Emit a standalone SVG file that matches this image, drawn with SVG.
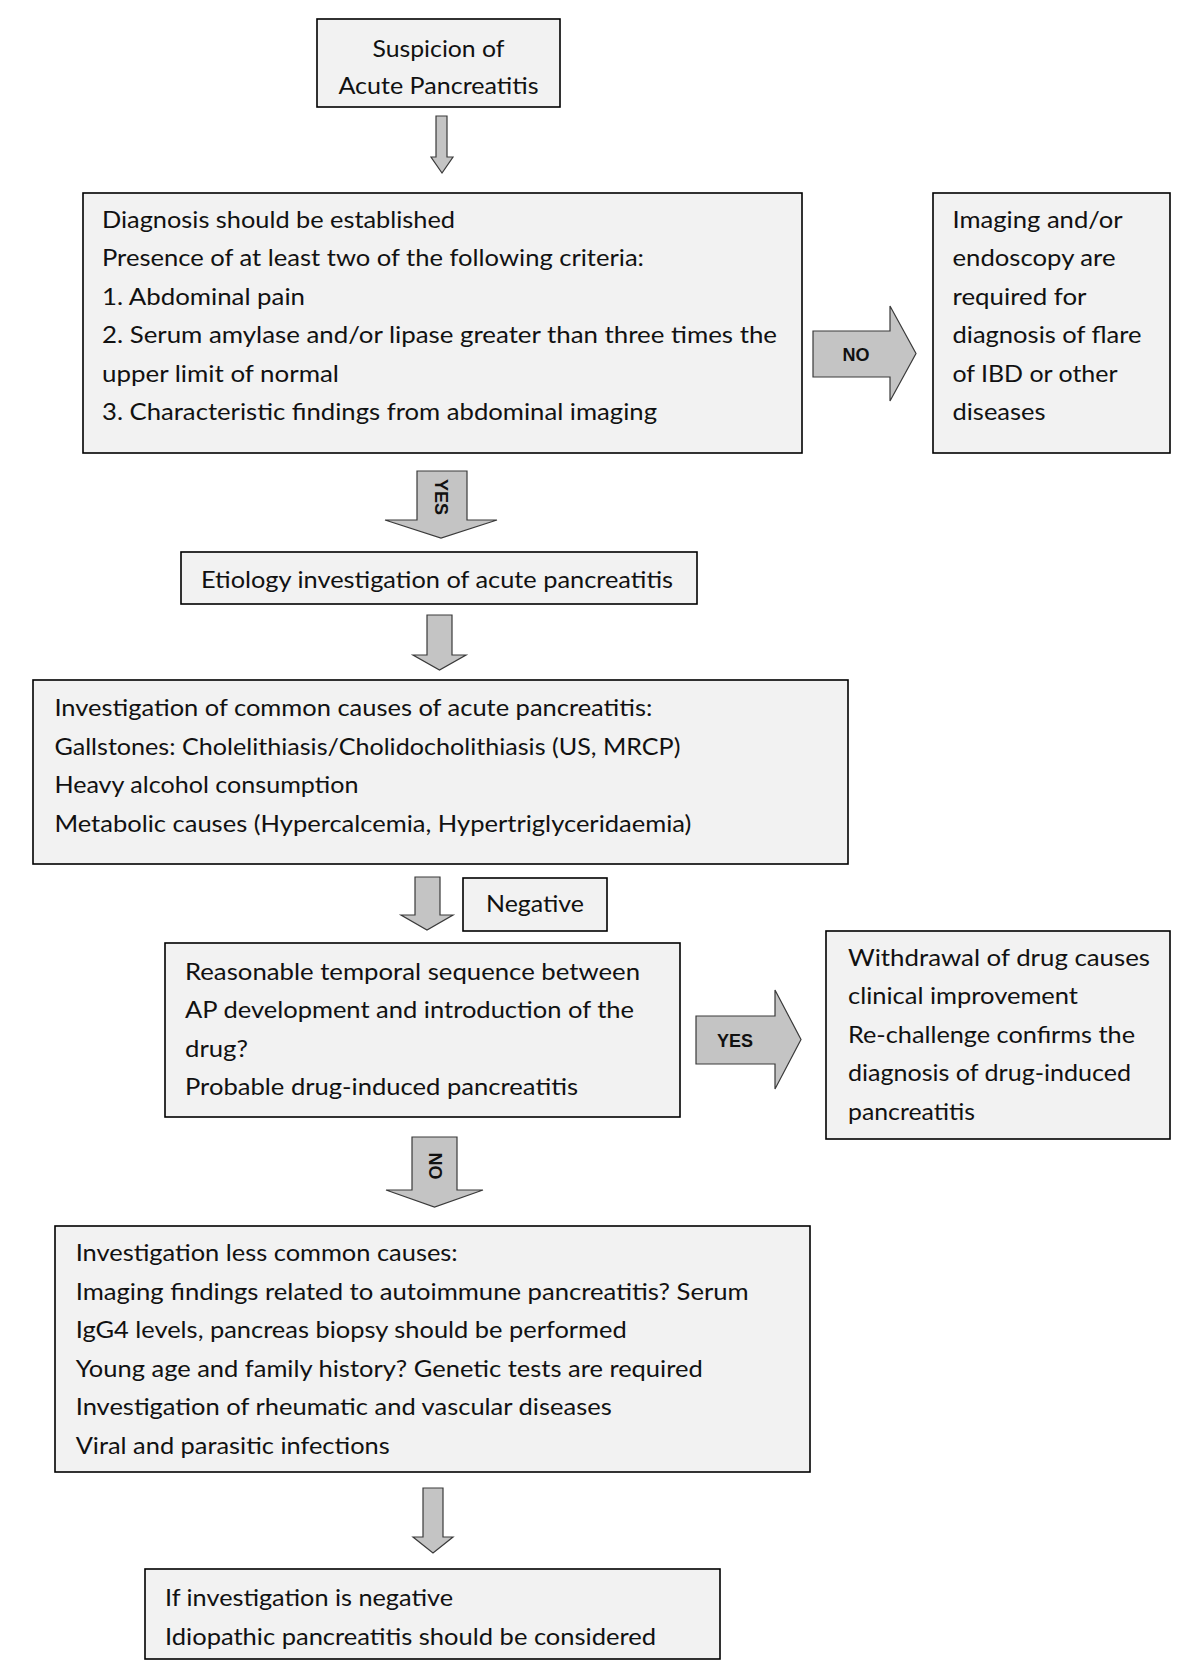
<svg xmlns="http://www.w3.org/2000/svg" width="1181" height="1672" viewBox="0 0 1181 1672">
<style>
.box{fill:#f2f2f2;stroke:#000;stroke-width:1.6}
.t{font-family:Lato,"Open Sans","Liberation Sans",sans-serif;font-size:23px;fill:#111}
.arr{fill:#c4c4c4;stroke:#3a3a3a;stroke-width:1.2;stroke-linejoin:miter}
.lbl{font-family:"Liberation Sans",Arial,sans-serif;font-weight:bold;font-size:18px;fill:#111}
</style>
<rect width="1181" height="1672" fill="#fff"/>
<g id="connectors">
<polygon class="arr" points="436,116 447,116 447,157 453,157 442,173 431,157 436,157"/>
<polygon class="arr" points="417,471 467,471 467,520 497,520 441,538 385,520 417,520"/>
<text class="lbl" transform="translate(441,497) rotate(90)" text-anchor="middle" dominant-baseline="central" font-size="19">YES</text>
<polygon class="arr" points="427,615 452,615 452,655 466,655 439.5,670 413,655 427,655"/>
<polygon class="arr" points="415,877 440,877 440,915 453,915 427,930 401,915 415,915"/>
<polygon class="arr" points="412,1137 457,1137 457,1190 483,1190 434.5,1207 386,1190 412,1190"/>
<text class="lbl" transform="translate(434.5,1166) rotate(90)" text-anchor="middle" dominant-baseline="central" font-size="21">NO</text>
<polygon class="arr" points="423,1488 443,1488 443,1537 453,1537 433,1553 413,1537 423,1537"/>
<polygon class="arr" points="813,331 890,331 890,306 916,353.5 890,401 890,377 813,377"/>
<text class="lbl" x="856" y="361" text-anchor="middle" font-size="19">NO</text>
<polygon class="arr" points="696,1016 775,1016 775,990 801,1039.5 775,1089 775,1064 696,1064"/>
<text class="lbl" x="735" y="1047" text-anchor="middle" font-size="20">YES</text>
</g>
<g id="n1">
<rect class="box" x="317" y="19" width="243" height="88"/>
<text class="t" x="438.5" y="57" text-anchor="middle" textLength="132" lengthAdjust="spacingAndGlyphs">Suspicion of</text>
<text class="t" x="438.5" y="94" text-anchor="middle" textLength="200" lengthAdjust="spacingAndGlyphs">Acute Pancreatitis</text>
</g>
<g id="n2">
<rect class="box" x="83" y="193" width="719" height="260"/>
<text class="t" x="102" y="228" textLength="353" lengthAdjust="spacingAndGlyphs">Diagnosis should be established</text>
<text class="t" x="102" y="266.4" textLength="542" lengthAdjust="spacingAndGlyphs">Presence of at least two of the following criteria:</text>
<text class="t" x="102" y="304.8" textLength="203" lengthAdjust="spacingAndGlyphs">1. Abdominal pain</text>
<text class="t" x="102" y="343.2" textLength="675" lengthAdjust="spacingAndGlyphs">2. Serum amylase and/or lipase greater than three times the</text>
<text class="t" x="102" y="381.6" textLength="237" lengthAdjust="spacingAndGlyphs">upper limit of normal</text>
<text class="t" x="102" y="420" textLength="555" lengthAdjust="spacingAndGlyphs">3. Characteristic findings from abdominal imaging</text>
</g>
<g id="n3">
<rect class="box" x="933" y="193" width="237" height="260"/>
<text class="t" x="952.5" y="228" textLength="170" lengthAdjust="spacingAndGlyphs">Imaging and/or</text>
<text class="t" x="952.5" y="266.4" textLength="163" lengthAdjust="spacingAndGlyphs">endoscopy are</text>
<text class="t" x="952.5" y="304.8" textLength="134" lengthAdjust="spacingAndGlyphs">required for</text>
<text class="t" x="952.5" y="343.2" textLength="189" lengthAdjust="spacingAndGlyphs">diagnosis of flare</text>
<text class="t" x="952.5" y="381.6" textLength="165" lengthAdjust="spacingAndGlyphs">of IBD or other</text>
<text class="t" x="952.5" y="420" textLength="93" lengthAdjust="spacingAndGlyphs">diseases</text>
</g>
<g id="n4">
<rect class="box" x="181" y="552" width="516" height="52"/>
<text class="t" x="437" y="588" text-anchor="middle" textLength="472" lengthAdjust="spacingAndGlyphs">Etiology investigation of acute pancreatitis</text>
</g>
<g id="n5">
<rect class="box" x="33" y="680" width="815" height="184"/>
<text class="t" x="54.4" y="716" textLength="598" lengthAdjust="spacingAndGlyphs">Investigation of common causes of acute pancreatitis:</text>
<text class="t" x="54.4" y="754.5" textLength="626" lengthAdjust="spacingAndGlyphs">Gallstones: Cholelithiasis/Cholidocholithiasis (US, MRCP)</text>
<text class="t" x="54.4" y="793" textLength="304" lengthAdjust="spacingAndGlyphs">Heavy alcohol consumption</text>
<text class="t" x="54.4" y="831.5" textLength="637" lengthAdjust="spacingAndGlyphs">Metabolic causes (Hypercalcemia, Hypertriglyceridaemia)</text>
</g>
<g id="n6">
<rect class="box" x="463" y="878" width="144" height="53"/>
<text class="t" x="535" y="912" text-anchor="middle" textLength="98" lengthAdjust="spacingAndGlyphs">Negative</text>
</g>
<g id="n7">
<rect class="box" x="165" y="943" width="515" height="174"/>
<text class="t" x="185" y="980" textLength="455" lengthAdjust="spacingAndGlyphs">Reasonable temporal sequence between</text>
<text class="t" x="185" y="1018.4" textLength="449" lengthAdjust="spacingAndGlyphs">AP development and introduction of the</text>
<text class="t" x="185" y="1056.8" textLength="63" lengthAdjust="spacingAndGlyphs">drug?</text>
<text class="t" x="185" y="1095.2" textLength="393" lengthAdjust="spacingAndGlyphs">Probable drug-induced pancreatitis</text>
</g>
<g id="n8">
<rect class="box" x="826" y="931" width="344" height="208"/>
<text class="t" x="848" y="966" textLength="302" lengthAdjust="spacingAndGlyphs">Withdrawal of drug causes</text>
<text class="t" x="848" y="1004.4" textLength="230" lengthAdjust="spacingAndGlyphs">clinical improvement</text>
<text class="t" x="848" y="1042.8" textLength="287" lengthAdjust="spacingAndGlyphs">Re-challenge confirms the</text>
<text class="t" x="848" y="1081.2" textLength="283" lengthAdjust="spacingAndGlyphs">diagnosis of drug-induced</text>
<text class="t" x="848" y="1119.6" textLength="127" lengthAdjust="spacingAndGlyphs">pancreatitis</text>
</g>
<g id="n9">
<rect class="box" x="55" y="1226" width="755" height="246"/>
<text class="t" x="75.7" y="1261" textLength="382" lengthAdjust="spacingAndGlyphs">Investigation less common causes:</text>
<text class="t" x="75.7" y="1299.6" textLength="673" lengthAdjust="spacingAndGlyphs">Imaging findings related to autoimmune pancreatitis? Serum</text>
<text class="t" x="75.7" y="1338.2" textLength="551" lengthAdjust="spacingAndGlyphs">IgG4 levels, pancreas biopsy should be performed</text>
<text class="t" x="75.7" y="1376.8" textLength="627" lengthAdjust="spacingAndGlyphs">Young age and family history? Genetic tests are required</text>
<text class="t" x="75.7" y="1415.4" textLength="536" lengthAdjust="spacingAndGlyphs">Investigation of rheumatic and vascular diseases</text>
<text class="t" x="75.7" y="1454" textLength="314" lengthAdjust="spacingAndGlyphs">Viral and parasitic infections</text>
</g>
<g id="n10">
<rect class="box" x="145" y="1569" width="575" height="90"/>
<text class="t" x="165" y="1606" textLength="288" lengthAdjust="spacingAndGlyphs">If investigation is negative</text>
<text class="t" x="165" y="1645" textLength="491" lengthAdjust="spacingAndGlyphs">Idiopathic pancreatitis should be considered</text>
</g>
</svg>
